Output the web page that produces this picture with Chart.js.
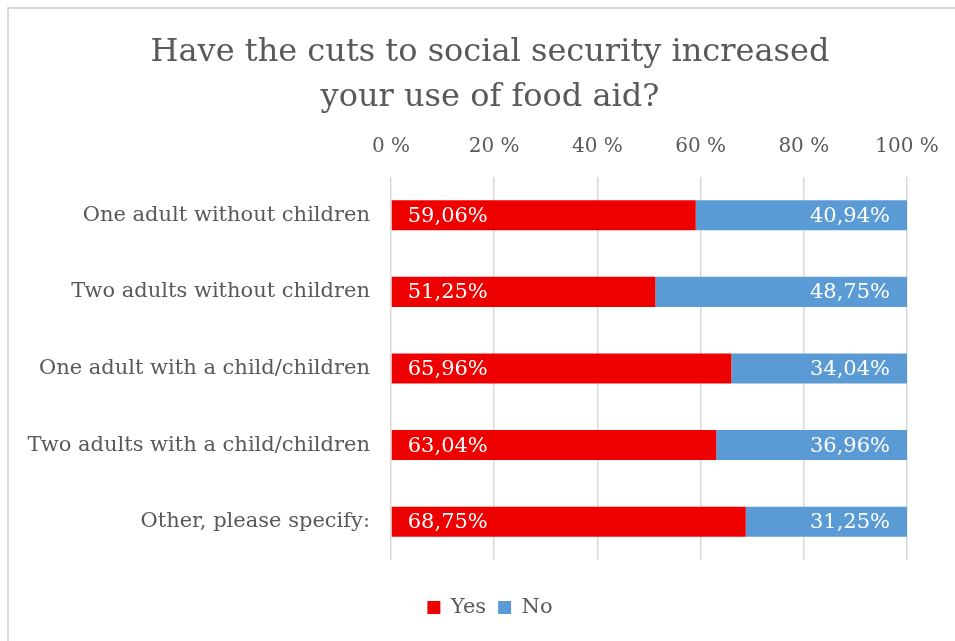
<!DOCTYPE html>
<html>
<head>
<meta charset="utf-8">
<title>Food aid survey</title>
<script src="https://cdn.jsdelivr.net/npm/chart.js@4.4.0/dist/chart.umd.min.js"></script>
<style>
  html, body { margin: 0; padding: 0; background: #fff; overflow: hidden; }
</style>
</head>
<body>
<canvas id="chart" width="980" height="641"></canvas>
<script>
const categories = [
  "One adult without children",
  "Two adults without children",
  "One adult with a child/children",
  "Two adults with a child/children",
  "Other, please specify:"
];
const yesValues = [59.06, 51.25, 65.96, 63.04, 68.75];
const noValues = [40.94, 48.75, 34.04, 36.96, 31.25];
const titleLines = ["Have the cuts to social security increased", "your use of food aid?"];

const FONT = "'DejaVu Serif', Georgia, serif";
const TEXT_GREY = "#595959";

function pct(v) {
  return v.toFixed(2).replace(".", ",") + "%";
}

// thin grey frame along the top and left edge
const framePlugin = {
  id: "frame",
  beforeDraw(chart) {
    const ctx = chart.ctx;
    ctx.save();
    ctx.fillStyle = "#fff";
    ctx.fillRect(0, 0, chart.width, chart.height);
    ctx.strokeStyle = "#d9d9d9";
    ctx.lineWidth = 2;
    ctx.beginPath();
    ctx.moveTo(8, chart.height);
    ctx.lineTo(8, 8);
    ctx.lineTo(chart.width, 8);
    ctx.stroke();
    ctx.restore();
  }
};

// white value labels inside the bars: Yes at the start, No at the end
const barLabelPlugin = {
  id: "barLabels",
  afterDatasetsDraw(chart) {
    const ctx = chart.ctx;
    ctx.save();
    ctx.font = "21px " + FONT;
    ctx.fillStyle = "#fff";
    ctx.textBaseline = "middle";
    chart.data.datasets.forEach((ds, i) => {
      const meta = chart.getDatasetMeta(i);
      meta.data.forEach((bar, j) => {
        const v = ds.data[j];
        if (i === 0) {
          ctx.textAlign = "left";
          ctx.fillText(pct(v), bar.base + 16, bar.y + 1);
        } else {
          ctx.textAlign = "right";
          ctx.fillText(pct(v), bar.x - 17, bar.y + 1);
        }
      });
    });
    ctx.restore();
  }
};

new Chart(document.getElementById("chart"), {
  type: "bar",
  data: {
    labels: categories,
    datasets: [
      {
        label: "Yes",
        data: yesValues,
        backgroundColor: "#ee0000",
        categoryPercentage: 0.8,
        barPercentage: 0.49
      },
      {
        label: "No",
        data: noValues,
        backgroundColor: "#5b9bd5",
        categoryPercentage: 0.8,
        barPercentage: 0.49
      }
    ]
  },
  options: {
    indexAxis: "y",
    responsive: false,
    animation: false,
    layout: { padding: { left: 0, right: 0, top: 0, bottom: 13 } },
    plugins: {
      title: {
        display: true,
        text: titleLines,
        color: TEXT_GREY,
        font: { family: FONT, size: 32, weight: "normal", lineHeight: 1.406 },
        padding: { top: 30, bottom: 0 }
      },
      legend: {
        position: "bottom",
        title: {
          display: true,
          text: "",
          font: { size: 1, lineHeight: 1 },
          padding: { top: 24, bottom: 0 }
        },
        labels: {
          color: TEXT_GREY,
          font: { family: FONT, size: 21 },
          boxWidth: 13,
          boxHeight: 13,
          padding: 12
        }
      },
      tooltip: { enabled: false }
    },
    scales: {
      x: {
        position: "top",
        stacked: true,
        min: 0,
        max: 100,
        ticks: {
          stepSize: 20,
          color: TEXT_GREY,
          font: { family: FONT, size: 20 },
          padding: 18,
          callback: (value) => value + " %"
        },
        grid: { color: "#d9d9d9", lineWidth: 1.5, drawTicks: false },
        border: { display: false },
        afterFit(scale) { scale.height = 57; }
      },
      y: {
        stacked: true,
        ticks: {
          color: TEXT_GREY,
          font: { family: FONT, size: 21 },
          padding: 13
        },
        grid: { display: false },
        border: { display: false },
        afterFit(scale) { scale.width = 391; }
      },
      // empty spacer on the right so the plot ends before the canvas edge
      spacer: {
        type: "category",
        position: "right",
        grid: { display: false },
        border: { display: false },
        ticks: { display: false },
        afterFit(scale) { scale.width = 73; }
      }
    }
  },
  plugins: [framePlugin, barLabelPlugin]
});
</script>
</body>
</html>
